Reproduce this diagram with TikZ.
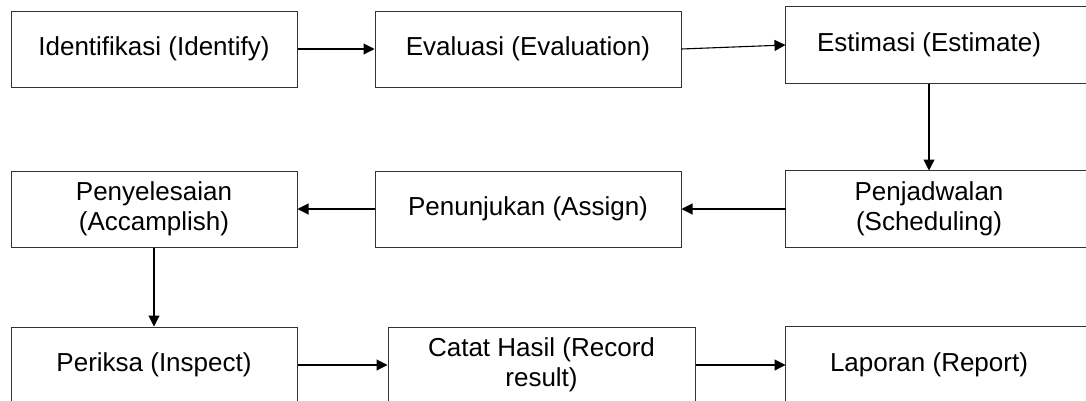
\documentclass[tikz,border=0pt]{standalone}
\usepackage{fontspec}
\setmainfont{Liberation Sans}
\usetikzlibrary{arrows.meta}
\begin{document}
\begin{tikzpicture}[x=1pt,y=-1pt,
  box/.style={draw=black!80, line width=1pt, minimum width=#1, minimum height=76pt,
    inner sep=0pt, align=center, font=\fontsize{26}{30}\selectfont},
  box/.default=286,
  rbox/.style={box=286, draw=none},
  edgeline/.style={draw=black!80, line width=1pt},
  conn/.style={line width=1.1pt, -{Triangle[length=11pt,width=11pt]}}]
\useasboundingbox (0,0) rectangle (1086,400);
\clip (0,0) rectangle (1086,400);
% row 1
\node[box=286] (a) at (154,49) {Identifikasi (Identify)};
\node[box=306] (b) at (528,49) {Evaluasi (Evaluation)};
\node[rbox] (c) at (929,45) {Estimasi (Estimate)};
\draw[edgeline] (c.north west) rectangle ([xshift=30pt]c.south east);
% row 2
\node[rbox] (f) at (929,209) {Penjadwalan\\(Scheduling)};
\draw[edgeline] (f.north west) rectangle ([xshift=30pt]f.south east);
\node[box=306] (e) at (528,209) {Penunjukan (Assign)};
\node[box=286] (d) at (154,209) {Penyelesaian\\(Accamplish)};
% row 3
\node[box=286] (g) at (154,365) {Periksa (Inspect)};
\node[box=307] (h) at (541.5,365) {Catat Hasil (Record\\result)};
\node[rbox] (i) at (929,365) {Laporan (Report)};
\draw[edgeline] (i.north west) rectangle ([xshift=30pt]i.south east);
% connectors
\draw[conn] (a) -- (b);
\draw[conn] (b.east) -- (c.west);
\draw[conn] (c) -- (f);
\draw[conn] (f) -- (e);
\draw[conn] (e) -- (d);
\draw[conn] (d) -- (g);
\draw[conn] (g) -- (h);
\draw[conn] (h) -- (i);
\end{tikzpicture}
\end{document}
